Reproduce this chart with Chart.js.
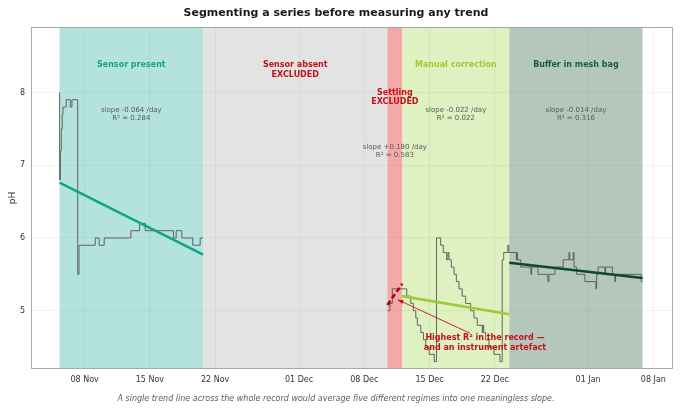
<!DOCTYPE html>
<html><head><meta charset="utf-8">
<script src="https://cdn.jsdelivr.net/npm/chart.js@4.4.1/dist/chart.umd.min.js"></script>
<style>html,body{margin:0;padding:0;background:#fff}#wrap{width:680px;height:409px;position:relative}</style>
</head><body><div id="wrap"><canvas id="c"></canvas></div>
<script>
// ---- axis ticks (days since 01 Nov) ----
const tickDays   = [7, 14, 21, 30, 37, 44, 51, 61, 68];
const tickLabels = ['08 Nov','15 Nov','22 Nov','01 Dec','08 Dec','15 Dec','22 Dec','01 Jan','08 Jan'];
const yTicks = [5, 6, 7, 8];

// ---- pH series: value begins at each day ----
const presentDays = [4.31,4.32,4.40,4.50,4.60,4.68,5.03,5.46,5.64,6.26,6.40,8.14,8.56,9.10,11.97,12.90,13.50,16.53,16.82,17.43,18.60,19.39,19.70];
const presentPH   = [8.0, 6.8, 7.2, 7.5, 7.7, 7.8, 7.9, 7.8, 7.9, 5.5, 5.9, 6.0, 5.9, 6.0, 6.1,  6.2,  6.1,  6.0,  6.1,  6.0,  5.9,  6.0,  6.0];

const laterDays = [39.50,39.75,40.00,41.55,41.98,42.26,42.52,42.69,43.06,43.34,43.59,43.95,44.50,44.74,45.19,45.47,45.83,45.97,46.08,46.33,46.62,46.87,47.15,47.50,47.87,48.40,48.76,49.11,49.65,49.72,49.80,50.01,50.37,50.90,51.55,51.79,51.95,52.40,52.50,53.30,53.36,53.42,53.77,54.87,54.95,55.62,56.69,56.80,57.44,57.62,58.33,58.95,59.03,59.40,59.50,59.77,60.66,61.84,61.92,62.08,62.26,62.80,62.88,63.52,63.60,63.87,63.95,66.70,66.84];
const laterPH   = [5.0,  5.1,  5.3,  5.2,  5.1,  5.0,  4.9,  4.8,  4.7,  4.6,  4.5,  4.4,  4.3,  6.0,  5.9,  5.8,  5.7,  5.8,  5.7,  5.6,  5.5,  5.4,  5.3,  5.2,  5.1,  5.0,  4.9,  4.8,  4.7,  4.8,  4.7,  4.6,  4.5,  4.4,  4.3,  5.7,  5.8,  5.9,  5.8,  5.7,  5.8,  5.7,  5.6,  5.5,  5.6,  5.5,  5.4,  5.5,  5.6,  5.6,  5.7,  5.8,  5.7,  5.8,  5.6,  5.5,  5.4,  5.3,  5.5,  5.6,  5.6,  5.5,  5.6,  5.6,  5.5,  5.4,  5.5,  5.4,  5.4];

// ---- regimes ----
const regionStart = [4.31, 19.71, 39.47, 41.08, 52.55];
const regionEnd   = [19.71, 39.47, 41.08, 52.55, 66.84];
const regionLabels = [['Sensor present'], ['Sensor absent','EXCLUDED'], ['Settling','EXCLUDED'], ['Manual correction'], ['Buffer in mesh bag']];
const fitSlopes  = [-0.064, null, 0.180, -0.022, -0.014];
const fitR2      = [0.284, null, 0.583, 0.022, 0.316];
const fitStartPH = [6.76, null, 5.08, 5.20, 5.66];
const fitEndPH   = [5.77, null, 5.37, 4.95, 5.45];

const annotationText = ['Highest R\u00b2 in the record \u2014', 'and an instrument artefact'];
const titleText  = 'Segmenting a series before measuring any trend';
const footerText = 'A single trend line across the whole record would average five different regimes into one meaningless slope.';

// ---- styles ----
const FONT = "'DejaVu Sans', sans-serif";
const regionFill  = ['rgb(180,227,222)','rgb(227,227,227)','rgb(243,169,168)','rgb(223,240,193)','rgb(181,199,188)'];
const labelColor  = ['#16a389','#c0121c','#c0121c','#9acd32','#1b5e35'];
const fitColor    = ['#13a589', null, '#b5000f', '#9acd32', '#0c4a28'];
const fitDash     = [[], null, [5,3], [], []];
const labelY      = [[8.38],[8.38,8.245],[8.0,7.875],[8.38],[8.38]];
const slopeY      = [[7.76,7.65],null,[7.25,7.14],[7.76,7.65],[7.76,7.65]];

const datasets = [];
regionStart.forEach((s, i) => {
  if (fitSlopes[i] === null) return;
  datasets.push({
    data: [{x: s, y: fitStartPH[i]}, {x: regionEnd[i], y: fitEndPH[i]}],
    borderColor: fitColor[i], borderWidth: 2.6, borderDash: fitDash[i],
    pointRadius: 0, order: 0, borderCapStyle: 'butt'
  });
});
datasets.push({
  data: presentDays.map((d, i) => ({x: d, y: presentPH[i]})),
  stepped: true, borderColor: '#555', borderWidth: 0.9, pointRadius: 0, order: 1
});
datasets.push({
  data: laterDays.map((d, i) => ({x: d, y: laterPH[i]})),
  stepped: true, borderColor: '#555', borderWidth: 0.9, pointRadius: 0, order: 1
});

const regionPlugin = {
  id: 'regions',
  beforeDraw(chart) {
    const {ctx, chartArea: a, scales: {x}} = chart;
    ctx.save();
    regionStart.forEach((s, i) => {
      const x0 = x.getPixelForValue(s), x1 = x.getPixelForValue(regionEnd[i]);
      ctx.fillStyle = regionFill[i];
      ctx.fillRect(x0, a.top, x1 - x0, a.bottom - a.top);
    });
    ctx.restore();
  },
  afterDatasetsDraw(chart) {
    const {ctx, chartArea: a, scales: {x, y}} = chart;
    ctx.save();
    ctx.textAlign = 'center';
    ctx.textBaseline = 'middle';
    regionStart.forEach((s, i) => {
      const cx = (x.getPixelForValue(s) + x.getPixelForValue(regionEnd[i])) / 2;
      ctx.font = 'bold 8px ' + FONT;
      ctx.fillStyle = labelColor[i];
      regionLabels[i].forEach((t, k) => ctx.fillText(t, cx, y.getPixelForValue(labelY[i][k])));
      if (fitSlopes[i] !== null) {
        ctx.font = '7px ' + FONT;
        ctx.fillStyle = '#5a5a5a';
        const sl = (fitSlopes[i] >= 0 ? '+' : '') + fitSlopes[i].toFixed(3);
        ctx.fillText('slope ' + sl + ' /day', cx, y.getPixelForValue(slopeY[i][0]));
        ctx.fillText('R\u00b2 = ' + fitR2[i].toFixed(3), cx, y.getPixelForValue(slopeY[i][1]));
      }
    });
    // annotation arrow
    const ax0 = x.getPixelForValue(48.33), ay0 = y.getPixelForValue(4.69);
    const ax1 = x.getPixelForValue(40.6),  ay1 = y.getPixelForValue(5.15);
    ctx.strokeStyle = '#c0121c'; ctx.fillStyle = '#c0121c'; ctx.lineWidth = 0.9;
    ctx.beginPath(); ctx.moveTo(ax0, ay0); ctx.lineTo(ax1, ay1); ctx.stroke();
    const ang = Math.atan2(ay1 - ay0, ax1 - ax0);
    ctx.beginPath();
    ctx.moveTo(ax1, ay1);
    ctx.lineTo(ax1 - 6 * Math.cos(ang - 0.35), ay1 - 6 * Math.sin(ang - 0.35));
    ctx.lineTo(ax1 - 6 * Math.cos(ang + 0.35), ay1 - 6 * Math.sin(ang + 0.35));
    ctx.closePath(); ctx.fill();
    ctx.font = 'bold 8px ' + FONT;
    const tx = x.getPixelForValue(49.94);
    ctx.fillText(annotationText[0], tx, y.getPixelForValue(4.62));
    ctx.fillText(annotationText[1], tx, y.getPixelForValue(4.495));
    // top / right frame
    ctx.strokeStyle = '#a8a8a8'; ctx.lineWidth = 1;
    ctx.beginPath();
    ctx.moveTo(a.left, a.top + 0.5); ctx.lineTo(a.right + 0.5, a.top + 0.5); ctx.lineTo(a.right + 0.5, a.bottom);
    ctx.stroke();
    ctx.restore();
  }
};

new Chart(document.getElementById('c'), {
  type: 'line',
  data: { datasets },
  plugins: [regionPlugin],
  options: {
    responsive: true, maintainAspectRatio: false, animation: false,
    layout: { padding: { left: 0, right: 8, top: 0, bottom: 0 } },
    elements: { line: { tension: 0 } },
    plugins: {
      legend: { display: false },
      tooltip: { enabled: false },
      title: { display: true, text: titleText, color: '#1a1a1a',
        font: { family: FONT, size: 11, weight: 'bold' }, padding: { top: 7, bottom: 6.8 } },
      subtitle: { display: true, position: 'bottom', text: footerText, color: '#5a5a5a',
        font: { family: FONT, size: 8, style: 'italic' }, padding: { top: 5.5, bottom: 5 } }
    },
    scales: {
      x: {
        type: 'linear', min: 1.25, max: 70.0,
        afterBuildTicks: s => { s.ticks = tickDays.map(v => ({ value: v })); },
        afterFit: s => { s.height = 20; },
        ticks: { callback: (v) => tickLabels[tickDays.indexOf(v)], color: '#333', padding: 6,
          font: { family: FONT, size: 8 }, maxRotation: 0, autoSkip: false },
        grid: { color: 'rgba(0,0,0,0.045)', drawTicks: false },
        border: { color: '#a8a8a8' }
      },
      y: {
        min: 4.2, max: 8.9,
        afterBuildTicks: s => { s.ticks = yTicks.map(v => ({ value: v })); },
        afterFit: s => { s.width = 31; },
        ticks: { color: '#333', padding: 6, font: { family: FONT, size: 8 } },
        grid: { color: 'rgba(0,0,0,0.045)', drawTicks: false },
        border: { color: '#a8a8a8' },
        title: { display: true, text: 'pH', color: '#333', font: { family: FONT, size: 9 }, padding: { top: 7, bottom: 0 } }
      }
    }
  }
});
</script></body></html>
